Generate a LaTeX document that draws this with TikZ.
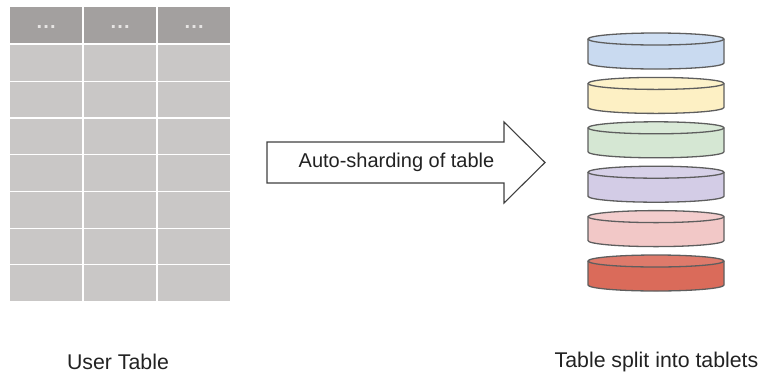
\documentclass[tikz,border=0pt]{standalone}
\usepackage{fontspec}
\setmainfont{Liberation Sans}
\begin{document}
\begin{tikzpicture}[x=1pt,y=-1pt,
  headcell/.style={fill=headgray,draw=none,inner sep=0pt,minimum width=72pt,minimum height=36pt,anchor=north west},
  bodycell/.style={fill=cellgray,draw=none,inner sep=0pt,minimum width=72pt,minimum height=35.5pt,anchor=north west},
  label/.style={font=\fontsize{20}{24}\selectfont,text=txt,inner sep=0pt},
  caption/.style={font=\fontsize{21.3}{25}\selectfont,text=txt,inner sep=0pt},
  rim/.style={draw=rimgray,line width=1.3pt,line join=round}]
\definecolor{headgray}{HTML}{A3A09F}
\definecolor{cellgray}{HTML}{C9C7C6}
\definecolor{rimgray}{HTML}{5E5E5E}
\definecolor{dotgray}{HTML}{E6E4E3}
\definecolor{txt}{HTML}{222222}
\definecolor{tA}{HTML}{C9DAF0}
\definecolor{tB}{HTML}{FDF0C4}
\definecolor{tC}{HTML}{D5E7D3}
\definecolor{tD}{HTML}{D3CCE6}
\definecolor{tE}{HTML}{F2C8C7}
\definecolor{tF}{HTML}{DA6B5A}
\useasboundingbox (0,0) rectangle (764,373);

% user table: header row and body cells
\foreach \c/\x in {1/10,2/84,3/158} {
  \node[headcell] (h\c) at (\x,7) {};
  \node[text=dotgray,font=\fontsize{20}{20}\selectfont\bfseries,inner sep=0pt]
    at ([yshift=-1.5pt]h\c.center) {.\hspace{1.2pt}.\hspace{1.2pt}.};
  \foreach \r in {0,...,6} {
    \node[bodycell] (b\c\r) at (\x,45+36.7*\r) {};
  }
}

% the sharding arrow
\draw[draw=black!75,line width=1.1pt,fill=white,line join=miter]
  (267,142) -- (504,142) -- (504,122) -- (545,162.5) -- (504,203) -- (504,183) -- (267,183) -- cycle;
\node[label] (arrowtext) at (396.5,162.5) {Auto-sharding of table};

% stack of tablets
\foreach \col [count=\i from 0] in {tA,tB,tC,tD,tE,tF} {
  \pgfmathsetmacro{\yt}{39+44.4*\i}
  \pgfmathsetmacro{\yb}{\yt+24}
  \path[fill=\col] (588,\yt) -- (588,\yb)
    arc[start angle=180,end angle=360,x radius=68pt,y radius=6pt] -- (724,\yt) -- cycle;
  \draw[rim] (588,\yt) -- (588,\yb)
    arc[start angle=180,end angle=360,x radius=68pt,y radius=6pt] -- (724,\yt);
  \draw[rim,fill=\col!90!white] (656,\yt) ellipse[x radius=68pt,y radius=6pt];
}

% captions
\node[caption] (usertable) at (118,362) {User Table};
\node[caption] (tablets) at (656.5,362) {Table split into tablets};
\end{tikzpicture}
\end{document}
